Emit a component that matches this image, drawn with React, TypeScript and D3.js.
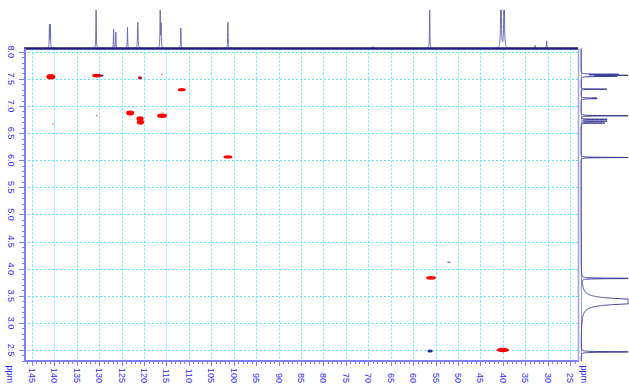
import React, { useEffect, useRef } from 'react';
import * as d3 from 'd3';

// axis tick labels
const carbonTicks = [145, 140, 135, 130, 125, 120, 115, 110, 105, 100, 95, 90, 85, 80, 75, 70, 65, 60, 55, 50, 45, 40, 35, 30, 25];
const protonTicks = [8.0, 7.5, 7.0, 6.5, 6.0, 5.5, 5.0, 4.5, 4.0, 3.5, 3.0, 2.5];

// 13C projection (top): ppm, relative intensity, half width (ppm)
const carbonPeaks = [
  { ppm: 141.1, h: 0.6, w: 0.05 },
  { ppm: 140.9, h: 0.6, w: 0.05 },
  { ppm: 130.7, h: 1.2, w: 0.05 },
  { ppm: 126.8, h: 0.5, w: 0.05 },
  { ppm: 126.3, h: 0.42, w: 0.05 },
  { ppm: 123.7, h: 0.55, w: 0.05 },
  { ppm: 121.4, h: 0.68, w: 0.07 },
  { ppm: 116.4, h: 1.2, w: 0.05 },
  { ppm: 116.2, h: 0.6, w: 0.05 },
  { ppm: 111.8, h: 0.53, w: 0.05 },
  { ppm: 101.3, h: 0.68, w: 0.05 },
  { ppm: 69.0, h: 0.05, w: 0.1 },
  { ppm: 56.3, h: 1.2, w: 0.05 },
  { ppm: 40.4, h: 3, w: 0.06 },
  { ppm: 39.7, h: 3, w: 0.06 },
  { ppm: 32.8, h: 0.08, w: 0.05 },
  { ppm: 30.2, h: 0.2, w: 0.05 },
];

// 1H projection (right)
const protonPeaks = [
  { ppm: 7.585, h: 0.77, w: 0.003 },
  { ppm: 7.565, h: 1.2, w: 0.003 },
  { ppm: 7.55, h: 0.6, w: 0.003 },
  { ppm: 7.545, h: 0.45, w: 0.003 },
  { ppm: 7.31, h: 0.55, w: 0.003 },
  { ppm: 7.145, h: 0.3, w: 0.004 },
  { ppm: 7.135, h: 0.3, w: 0.004 },
  { ppm: 6.82, h: 1.2, w: 0.003 },
  { ppm: 6.755, h: 0.55, w: 0.003 },
  { ppm: 6.72, h: 0.55, w: 0.003 },
  { ppm: 6.685, h: 0.5, w: 0.003 },
  { ppm: 6.05, h: 1.2, w: 0.003 },
  { ppm: 3.82, h: 1.5, w: 0.004 },
  { ppm: 3.395, h: 3.25, w: 0.03 },
  { ppm: 2.465, h: 1.5, w: 0.004 },
];

// HSQC cross peaks: 13C ppm, 1H ppm, half widths (ppm), amplitude (+ red / - blue)
const crossPeaks = [
  { c: 140.8, h: 7.54, rc: 1.0, rh: 0.05, amp: 1 },
  { c: 130.5, h: 7.56, rc: 1.1, rh: 0.035, amp: 1 },
  { c: 129.4, h: 7.56, rc: 0.35, rh: 0.015, amp: -1 },
  { c: 120.9, h: 7.52, rc: 0.45, rh: 0.03, amp: 1 },
  { c: 120.9, h: 7.52, rc: 0.2, rh: 0.015, amp: -1 },
  { c: 116.0, h: 7.58, rc: 0.3, rh: 0.015, amp: 0.3 },
  { c: 111.6, h: 7.30, rc: 0.9, rh: 0.03, amp: 1 },
  { c: 123.1, h: 6.87, rc: 0.9, rh: 0.045, amp: 1 },
  { c: 115.8, h: 6.87, rc: 0.25, rh: 0.015, amp: 0.3 },
  { c: 130.5, h: 6.82, rc: 0.3, rh: 0.015, amp: 0.3 },
  { c: 123.1, h: 6.82, rc: 0.4, rh: 0.015, amp: 0.3 },
  { c: 120.9, h: 6.765, rc: 0.8, rh: 0.045, amp: 1 },
  { c: 120.8, h: 6.70, rc: 0.8, rh: 0.045, amp: 1 },
  { c: 116.0, h: 6.82, rc: 1.1, rh: 0.04, amp: 1 },
  { c: 140.3, h: 6.67, rc: 0.25, rh: 0.015, amp: 0.3 },
  { c: 101.3, h: 6.06, rc: 1.0, rh: 0.03, amp: 1 },
  { c: 56.0, h: 3.83, rc: 1.1, rh: 0.035, amp: 1 },
  { c: 52.0, h: 4.12, rc: 0.4, rh: 0.01, amp: -0.5 },
  { c: 56.2, h: 2.48, rc: 0.6, rh: 0.028, amp: -1 },
  { c: 40.0, h: 2.50, rc: 1.4, rh: 0.04, amp: 1 },
];

const W = 629;
const H = 391;
const plot = { left: 24, right: 578, top: 48.5, bottom: 361 };
const axisColor = '#7f7fff';
const labelColor = '#2b2bff';
const font = '"Liberation Sans", Arial, sans-serif';

const lorentz = (peaks: { ppm: number; h: number; w: number }[], p: number) =>
  d3.sum(peaks, (k) => k.h / (1 + ((p - k.ppm) / k.w) ** 2));

export default function App() {
  const ref = useRef<SVGSVGElement>(null);

  useEffect(() => {
    const svg = d3.select(ref.current);
    svg.selectAll('*').remove();

    const x = d3.scaleLinear().domain([146.78, 23.22]).range([plot.left, plot.right]);
    const y = d3.scaleLinear().domain([8.06, 2.297]).range([plot.top, plot.bottom]);

    // grid
    const grid = svg.append('g')
      .attr('stroke', '#5fe4ff')
      .attr('stroke-width', 1)
      .attr('stroke-dasharray', '2,2');
    grid.selectAll('line.v')
      .data(carbonTicks)
      .join('line')
      .attr('class', 'v')
      .attr('x1', (d) => Math.round(x(d)) + 0.5)
      .attr('x2', (d) => Math.round(x(d)) + 0.5)
      .attr('y1', plot.top)
      .attr('y2', plot.bottom);
    grid.selectAll('line.h')
      .data(protonTicks)
      .join('line')
      .attr('class', 'h')
      .attr('x1', plot.left)
      .attr('x2', plot.right)
      .attr('y1', (d) => Math.round(y(d)) + 0.5)
      .attr('y2', (d) => Math.round(y(d)) + 0.5);

    // cross peaks
    svg.append('g')
      .selectAll('ellipse')
      .data(crossPeaks)
      .join('ellipse')
      .attr('cx', (d) => x(d.c))
      .attr('cy', (d) => y(d.h))
      .attr('rx', (d) => Math.abs(x(d.c + d.rc) - x(d.c)))
      .attr('ry', (d) => Math.abs(y(d.h + d.rh) - y(d.h)))
      .attr('fill', (d) => (d.amp < 0 ? (d.amp < -0.7 ? '#1a2a9a' : '#4a5ad0') : d.amp > 0.7 ? '#ff0000' : '#ff8080'));

    // top 13C projection
    const topY = d3.scaleLinear().domain([0, 1]).range([plot.top, 10]).clamp(true);
    const cSamples = d3.range(23.22, 146.78, 0.02).concat(carbonPeaks.map((k) => k.ppm)).sort(d3.ascending);
    svg.append('path')
      .attr('d', d3.line<number>().x((p) => x(p)).y((p) => topY(lorentz(carbonPeaks, p)))(cSamples))
      .attr('fill', 'none')
      .attr('stroke', '#6a6ab8')
      .attr('stroke-width', 1);
    svg.append('line')
      .attr('x1', plot.left)
      .attr('x2', plot.right)
      .attr('y1', plot.top)
      .attr('y2', plot.top)
      .attr('stroke', '#1c1c80')
      .attr('stroke-width', 2.5);

    // right 1H projection
    const rightX = d3.scaleLinear().domain([0, 1]).range([581, 628]).clamp(true);
    const hSamples = d3.range(2.297, 8.06, 0.001).concat(protonPeaks.map((k) => k.ppm)).sort(d3.ascending);
    svg.append('line')
      .attr('x1', 581.5)
      .attr('x2', 581.5)
      .attr('y1', plot.top)
      .attr('y2', plot.bottom)
      .attr('stroke', '#9a9ad0')
      .attr('stroke-width', 1);
    svg.append('path')
      .attr('d', d3.line<number>().x((p) => rightX(lorentz(protonPeaks, p))).y((p) => y(p))(hSamples))
      .attr('fill', 'none')
      .attr('stroke', '#3a3a98')
      .attr('stroke-width', 1);

    // axes frame
    svg.append('line')
      .attr('x1', plot.left + 1)
      .attr('x2', plot.left + 1)
      .attr('y1', plot.top)
      .attr('y2', plot.bottom + 1)
      .attr('stroke', axisColor)
      .attr('stroke-width', 2);
    svg.append('line')
      .attr('x1', plot.left)
      .attr('x2', plot.right + 1)
      .attr('y1', plot.bottom)
      .attr('y2', plot.bottom)
      .attr('stroke', axisColor)
      .attr('stroke-width', 2);
    svg.append('line')
      .attr('x1', plot.right + 0.5)
      .attr('x2', plot.right + 0.5)
      .attr('y1', plot.top)
      .attr('y2', plot.bottom)
      .attr('stroke', '#a0a0f0')
      .attr('stroke-width', 1.5);

    // bottom ticks
    const bottom = svg.append('g').attr('stroke', axisColor).attr('stroke-width', 1);
    bottom.selectAll('line.minor')
      .data(d3.range(146, 23, -1))
      .join('line')
      .attr('x1', (d) => Math.round(x(d)) + 0.5)
      .attr('x2', (d) => Math.round(x(d)) + 0.5)
      .attr('y1', plot.bottom + 1)
      .attr('y2', plot.bottom + 3);
    bottom.selectAll('line.major')
      .data(carbonTicks)
      .join('line')
      .attr('x1', (d) => Math.round(x(d)) + 0.5)
      .attr('x2', (d) => Math.round(x(d)) + 0.5)
      .attr('y1', plot.bottom + 1)
      .attr('y2', plot.bottom + 5);

    svg.append('g')
      .selectAll('text')
      .data(carbonTicks)
      .join('text')
      .attr('transform', (d) => `translate(${x(d)},383) rotate(90)`)
      .attr('text-anchor', 'end')
      .attr('dominant-baseline', 'central')
      .attr('font-family', font)
      .attr('font-size', 9)
      .attr('fill', labelColor)
      .text((d) => d);

    // left ticks
    const left = svg.append('g').attr('stroke', axisColor).attr('stroke-width', 1);
    left.selectAll('line.minor')
      .data(d3.range(80, 22, -1).map((d) => d / 10))
      .join('line')
      .attr('x1', plot.left - 2)
      .attr('x2', plot.left)
      .attr('y1', (d) => Math.round(y(d)) + 0.5)
      .attr('y2', (d) => Math.round(y(d)) + 0.5);
    left.selectAll('line.major')
      .data(protonTicks)
      .join('line')
      .attr('x1', plot.left - 5)
      .attr('x2', plot.left)
      .attr('y1', (d) => Math.round(y(d)) + 0.5)
      .attr('y2', (d) => Math.round(y(d)) + 0.5);

    svg.append('g')
      .selectAll('text')
      .data(protonTicks)
      .join('text')
      .attr('transform', (d) => `translate(10.5,${y(d)}) rotate(90)`)
      .attr('text-anchor', 'middle')
      .attr('dominant-baseline', 'central')
      .attr('font-family', font)
      .attr('font-size', 9)
      .attr('fill', labelColor)
      .text((d) => d.toFixed(1));

    // unit labels
    [9.5, 584].forEach((px) => {
      svg.append('text')
        .attr('transform', `translate(${px},383) rotate(90)`)
        .attr('text-anchor', 'end')
        .attr('dominant-baseline', 'central')
        .attr('font-family', font)
        .attr('font-size', 9)
        .attr('fill', labelColor)
        .text('ppm');
    });
  }, []);

  return (
    <svg
      ref={ref}
      width={W}
      height={H}
      style={{ position: 'absolute', left: 0, top: 0, background: '#fff' }}
    />
  );
}
